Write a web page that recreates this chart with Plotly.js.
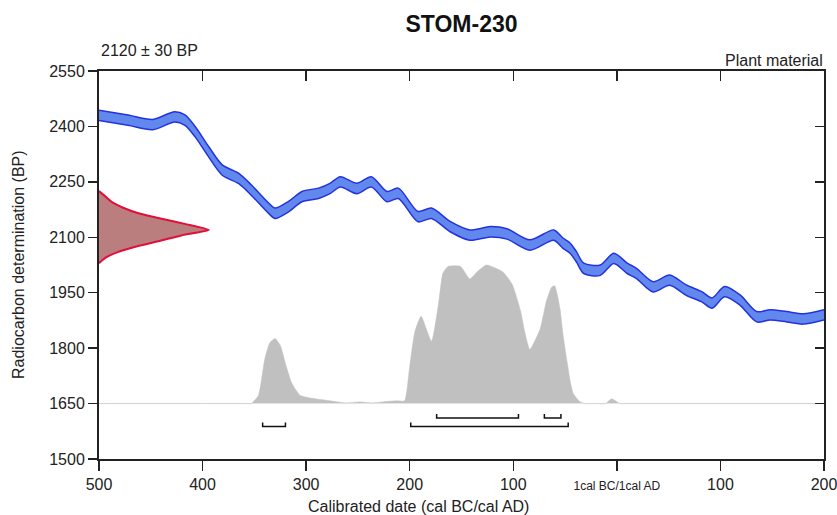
<!DOCTYPE html>
<html><head><meta charset="utf-8">
<script src="https://cdn.plot.ly/plotly-3.0.1.min.js"></script>
<style>html,body{margin:0;padding:0;background:#fff}</style>
</head><body><div id="chart" style="width:837px;height:515px"></div>
<script>
// Calibration curve (cal year, negative = BC) and radiocarbon age (BP)
const curveYears = [-500,-472,-448,-427,-417,-407,-394,-381,-365,-353,-336,-330,-317,-304,-288,-277,-267,-251,-237,-222,-211,-192,-179,-161,-142,-122,-106,-84,-61,-52,-45,-39,-32,-16,-3,10,19,35,51,67,82,92,104,119,135,148,164,180,200];
const curveBP = [2430,2417,2405,2426,2417,2385,2331,2282,2259,2228,2178,2165,2183,2210,2219,2232,2250,2232,2250,2210,2219,2156,2165,2129,2106,2115,2109,2079,2106,2084,2070,2047,2016,2011,2043,2016,2002,1966,1984,1957,1939,1922,1953,1930,1885,1890,1885,1879,1890];
const curveErr = 14;

// Calibrated probability distribution (relative)
const probYears = [-500,-450,-400,-360,-353,-346,-340,-335,-330,-325,-320,-314,-306,-296,-277,-262,-248,-236,-222,-212,-205,-200,-195,-189,-179,-172,-168,-163,-151,-142,-135,-126,-118,-110,-101,-93,-89,-84,-74,-68,-63,-60,-55,-52,-48,-45,-42,-36,-31,-20,-11,-5,3,10,50,100,150,200];
const probRel = [0,0,0,0,0,0.06,0.32,0.44,0.47,0.42,0.29,0.15,0.06,0.04,0.02,0.005,0.012,0.005,0.015,0.02,0.02,0.27,0.52,0.63,0.45,0.73,0.94,0.99,0.99,0.90,0.95,1.0,0.98,0.95,0.86,0.67,0.52,0.39,0.54,0.74,0.84,0.85,0.69,0.5,0.30,0.16,0.07,0.015,0,0,0,0.035,0,0,0,0,0,0];

// Radiocarbon measurement distribution 2120 ± 30 BP
const measBP = [2030,2045,2060,2075,2090,2105,2120,2135,2150,2165,2180,2195,2210,2225];
const measDens = [0,0.06,0.17,0.34,0.55,0.75,1.0,0.80,0.57,0.36,0.22,0.12,0.06,0];

// Calibrated ranges
const range68From = [-174,-70];
const range68To = [-95,-54];
const range95From = [-342,-199];
const range95To = [-320,-47];

const xTickVals = [-500,-400,-300,-200,-100,0,100,200];
const xTickText = ['500','400','300','200','100',"<span style='font-size:12px'>1cal BC/1cal AD</span>",'100','200'];
const yTickVals = [1500,1650,1800,1950,2100,2250,2400,2550];

// style / scale parameters
const X0 = -500, X1 = 200;
const probBase = 1650, probScale = 375;
const measScale = 106;
const row68 = 1611, row95 = 1588, cap = 11;
const FONT = 'Liberation Sans, Arial, sans-serif';
const TXT = '#222';

const traces = [];
traces.push({x:[X0,X1], y:[probBase,probBase], mode:'lines', line:{color:'#e6e6e6', width:1}, hoverinfo:'skip', showlegend:false});
traces.push({x:probYears, y:probRel.map(p=>probBase+p*probScale), mode:'lines', line:{color:'#c0c0c0', width:0.5, shape:'spline', smoothing:0.5}, fill:'tonexty', fillcolor:'#c0c0c0', hoverinfo:'skip', showlegend:false});
traces.push({x:curveYears, y:curveBP.map(v=>v+curveErr), mode:'lines', line:{color:'#2233dd', width:1.5, shape:'spline', smoothing:0.8}, hoverinfo:'skip', showlegend:false});
traces.push({x:curveYears, y:curveBP.map(v=>v-curveErr), mode:'lines', line:{color:'#2233dd', width:1.5, shape:'spline', smoothing:0.8}, fill:'tonexty', fillcolor:'#6288ee', hoverinfo:'skip', showlegend:false});
traces.push({x:measDens.map(d=>X0+d*measScale), y:measBP, mode:'lines', line:{color:'#e0103a', width:2, shape:'spline', smoothing:0.5}, fill:'toself', fillcolor:'rgba(140,40,40,0.6)', hoverinfo:'skip', showlegend:false});
function addRange(a,b,lvl){
  traces.push({x:[a,a,b,b], y:[lvl+cap,lvl,lvl,lvl+cap], mode:'lines', line:{color:'#111', width:1.5}, hoverinfo:'skip', showlegend:false});
}
range68From.forEach((a,i)=>addRange(a,range68To[i],row68));
range95From.forEach((a,i)=>addRange(a,range95To[i],row95));
traces.push({x:[X0], y:[1500], xaxis:'x2', yaxis:'y2', mode:'markers', marker:{opacity:0}, hoverinfo:'skip', showlegend:false});

const axCommon = {showgrid:false, zeroline:false, showline:true, linecolor:'#222', linewidth:2, tickcolor:'#222', tickwidth:1.5, tickfont:{family:FONT, size:16, color:TXT}, ticklabeloverflow:'allow'};
const layout = {
  width:837, height:515,
  margin:{l:99, r:13, t:71, b:56},
  paper_bgcolor:'#fff', plot_bgcolor:'#fff',
  font:{family:FONT, color:TXT},
  title:{text:'<b>STOM-230</b>', font:{family:FONT, size:23, color:'#111'}, xref:'paper', x:0.5, xanchor:'center', yref:'container', y:1-24/515, yanchor:'middle'},
  xaxis:Object.assign({}, axCommon, {range:[X0,X1], tickmode:'array', tickvals:xTickVals, ticktext:xTickText, ticks:'outside', ticklen:10}),
  xaxis2:Object.assign({}, axCommon, {overlaying:'x', side:'top', range:[X0,X1], tickmode:'array', tickvals:xTickVals, ticks:'inside', ticklen:10, showticklabels:false}),
  yaxis:Object.assign({}, axCommon, {range:[1500,2550], tickmode:'array', tickvals:yTickVals, ticks:'outside', ticklen:9}),
  yaxis2:Object.assign({}, axCommon, {overlaying:'y', side:'right', range:[1500,2550], tickmode:'array', tickvals:yTickVals, ticks:'inside', ticklen:9, showticklabels:false}),
  annotations:[
    {text:'2120 ± 30 BP', xref:'paper', yref:'paper', x:0, y:1+(70.7-50.5)/388.6, xanchor:'left', yanchor:'middle', showarrow:false, font:{family:FONT, size:16, color:TXT}},
    {text:'Plant material', xref:'paper', yref:'paper', x:(825-99)/725, y:1+(70.7-60)/388.6, xanchor:'right', yanchor:'middle', showarrow:false, font:{family:FONT, size:16, color:TXT}},
    {text:'Calibrated date (cal BC/cal AD)', xref:'paper', yref:'paper', x:(418-99)/725, y:-(507-70.7)/388.6+1, xanchor:'center', yanchor:'middle', showarrow:false, font:{family:FONT, size:16, color:TXT}},
    {text:'Radiocarbon determination (BP)', xref:'paper', yref:'paper', x:(18-99)/725, y:0.5, xanchor:'center', yanchor:'middle', textangle:-90, showarrow:false, font:{family:FONT, size:16, color:TXT}}
  ]
};
Plotly.newPlot('chart', traces, layout, {displayModeBar:false, staticPlot:true});
</script>
</body></html>
